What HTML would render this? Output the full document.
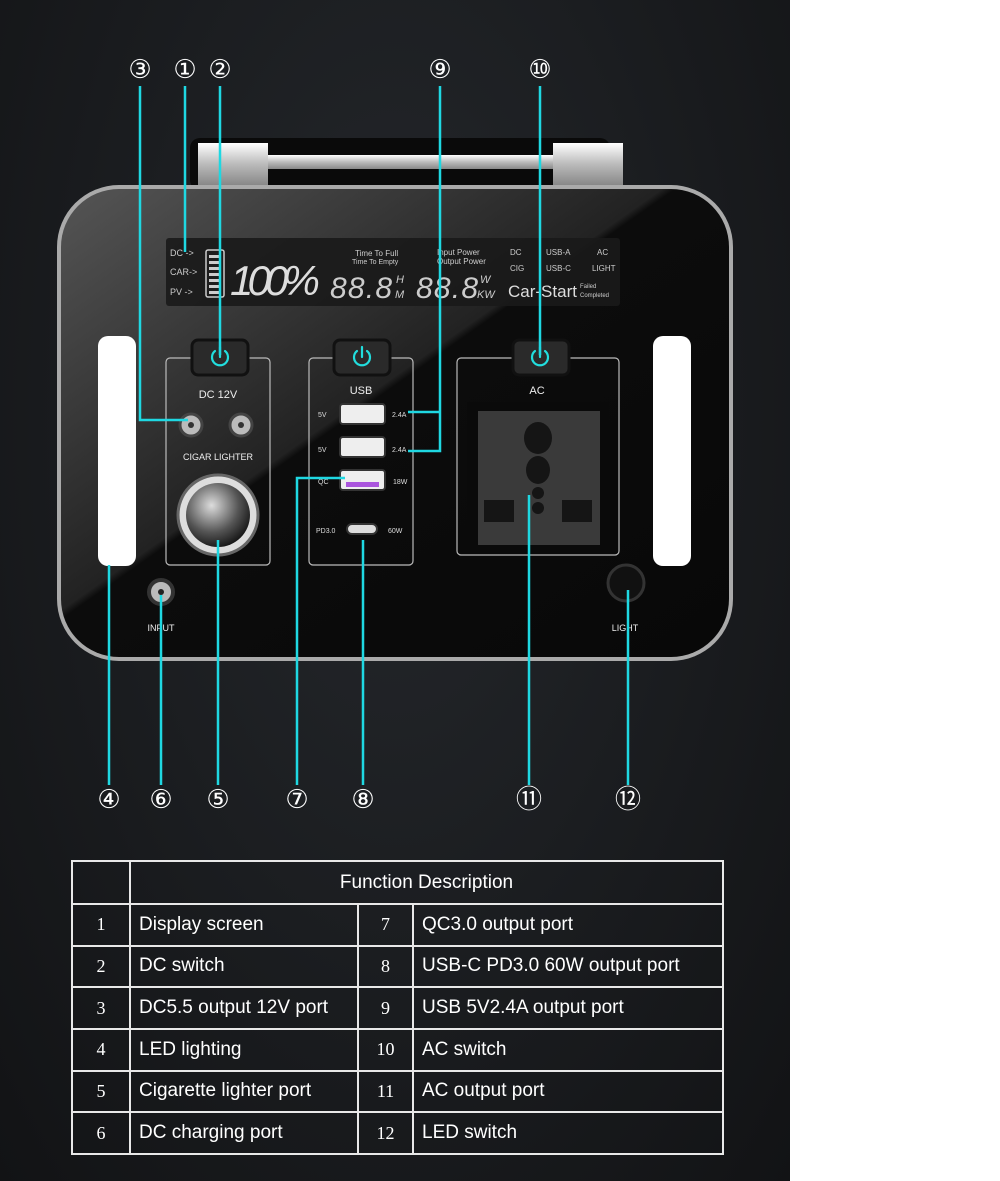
<!DOCTYPE html>
<html><head><meta charset="utf-8"><style>
body{margin:0;width:1000px;height:1181px;background:#fff;overflow:hidden;font-family:"Liberation Sans",sans-serif}
#bg{position:absolute;left:0;top:0;width:790px;height:1181px;background:radial-gradient(ellipse at 50% 35%,#25282c 0%,#1a1c1f 55%,#121315 100%)}
.n{position:absolute;color:#fff;font:26px "DejaVu Sans",sans-serif;transform:translate(-50%,-50%);line-height:1}
table{position:absolute;left:71px;top:860px;width:653px;height:295px;border-collapse:collapse;color:#fff;font-family:"Liberation Sans Narrow","Liberation Sans",sans-serif}
td{border:2px solid #e8e8e8;font-size:19px;padding:0 8px}
td.c{text-align:center;font-family:"Liberation Serif",serif;font-size:18px;padding:0}
</style></head><body>
<div id="bg"></div>
<svg width="790" height="1181" style="position:absolute;left:0;top:0">
<defs>
<linearGradient id="sil" x1="0" y1="0" x2="0" y2="1"><stop offset="0" stop-color="#fff"/><stop offset=".5" stop-color="#bbb"/><stop offset="1" stop-color="#888"/></linearGradient>
<linearGradient id="gl" x1="0" y1="0" x2="1" y2="1"><stop offset="0" stop-color="#555"/><stop offset=".45" stop-color="#222"/><stop offset=".46" stop-color="#0c0c0c"/><stop offset="1" stop-color="#080808"/></linearGradient>
<radialGradient id="cig" cx=".4" cy=".35" r=".7"><stop offset="0" stop-color="#ddd"/><stop offset=".6" stop-color="#555"/><stop offset="1" stop-color="#111"/></radialGradient>
</defs>
<rect x="190" y="138" width="420" height="52" rx="10" fill="#0a0a0a"/>
<rect x="230" y="155" width="330" height="14" fill="url(#sil)"/>
<rect x="198" y="143" width="70" height="42" fill="url(#sil)"/>
<rect x="553" y="143" width="70" height="42" fill="url(#sil)"/>
<rect x="57" y="185" width="676" height="476" rx="62" fill="#aaa"/>
<rect x="61" y="189" width="668" height="468" rx="58" fill="url(#gl)"/>
<rect x="166" y="238" width="454" height="68" rx="3" fill="#1a1a1a" opacity=".9"/>
<g fill="#ccc" font-size="9"><text x="170" y="256">DC -&gt;</text><text x="170" y="275">CAR-&gt;</text><text x="170" y="295">PV -&gt;</text></g>
<rect x="206" y="250" width="18" height="47" rx="2" fill="none" stroke="#ccc" stroke-width="1.5"/>
<g fill="#ccc"><rect x="209" y="255" width="12" height="3"/><rect x="209" y="261" width="12" height="3"/><rect x="209" y="267" width="12" height="3"/><rect x="209" y="273" width="12" height="3"/><rect x="209" y="279" width="12" height="3"/><rect x="209" y="285" width="12" height="3"/><rect x="209" y="291" width="12" height="3"/></g>
<text x="230" y="295" fill="#ddd" font-size="42" font-style="italic" font-family="Liberation Sans Narrow, Liberation Sans" textLength="90">100%</text>
<text x="355" y="256" fill="#ccc" font-size="8">Time To Full</text><text x="352" y="264" fill="#ccc" font-size="7">Time To Empty</text>
<text x="330" y="298" fill="#ccc" font-size="30" font-style="italic" textLength="62">88.8</text>
<text x="396" y="283" fill="#ccc" font-size="11" font-style="italic">H</text><text x="395" y="298" fill="#ccc" font-size="11" font-style="italic">M</text>
<text x="437" y="255" fill="#ccc" font-size="8">Input Power</text><text x="437" y="264" fill="#ccc" font-size="8">Output Power</text>
<text x="416" y="298" fill="#ccc" font-size="30" font-style="italic" textLength="62">88.8</text>
<text x="480" y="283" fill="#ccc" font-size="11" font-style="italic">W</text><text x="477" y="298" fill="#ccc" font-size="11" font-style="italic">KW</text>
<g fill="#ccc" font-size="8"><text x="510" y="255">DC</text><text x="546" y="255">USB-A</text><text x="597" y="255">AC</text><text x="510" y="271">CIG</text><text x="546" y="271">USB-C</text><text x="592" y="271">LIGHT</text></g>
<text x="508" y="297" fill="#ddd" font-size="17">Car-Start</text>
<text x="580" y="288" fill="#ccc" font-size="6">Failed</text><text x="580" y="297" fill="#ccc" font-size="6">Completed</text>
<rect x="98" y="336" width="38" height="230" rx="10" fill="#fff"/>
<rect x="653" y="336" width="38" height="230" rx="10" fill="#fff"/>
<g fill="none" stroke="#bbb" stroke-width="1.2">
<rect x="166" y="358" width="104" height="207" rx="4"/><rect x="309" y="358" width="104" height="207" rx="4"/><rect x="457" y="358" width="162" height="197" rx="4"/></g>
<g fill="#2a2a2a" stroke="#111" stroke-width="3">
<rect x="192" y="340" width="56" height="35" rx="6"/><rect x="334" y="340" width="56" height="35" rx="6"/><rect x="513" y="340" width="56" height="35" rx="6"/></g>
<g fill="none" stroke="#2dd" stroke-width="2.2" stroke-linecap="round">
<path d="M215 351 a8 8 0 1 0 10 0"/><line x1="220" y1="347" x2="220" y2="357"/>
<path d="M357 351 a8 8 0 1 0 10 0"/><line x1="362" y1="347" x2="362" y2="357"/>
<path d="M535 351 a8 8 0 1 0 10 0"/><line x1="540" y1="347" x2="540" y2="357"/></g>
<g fill="#eee" font-size="11" text-anchor="middle"><text x="218" y="398">DC 12V</text><text x="361" y="394">USB</text><text x="537" y="394">AC</text><text x="218" y="460" font-size="9">CIGAR LIGHTER</text>
<text x="161" y="631" font-size="9">INPUT</text><text x="625" y="631" font-size="9">LIGHT</text></g>
<circle cx="191" cy="425" r="11" fill="#bbb" stroke="#444" stroke-width="3"/><circle cx="191" cy="425" r="3" fill="#333"/>
<circle cx="241" cy="425" r="11" fill="#bbb" stroke="#444" stroke-width="3"/><circle cx="241" cy="425" r="3" fill="#333"/>
<circle cx="218" cy="515" r="40" fill="#ddd" stroke="#666" stroke-width="3"/><circle cx="218" cy="515" r="32" fill="url(#cig)"/>
<circle cx="161" cy="592" r="12" fill="#bbb" stroke="#333" stroke-width="4"/><circle cx="161" cy="592" r="3" fill="#222"/>
<circle cx="626" cy="583" r="18" fill="#111" stroke="#333" stroke-width="3"/>
<g fill="#ddd" font-size="7"><text x="318" y="417">5V</text><text x="318" y="452">5V</text><text x="318" y="484">QC</text><text x="316" y="533">PD3.0</text>
<text x="392" y="417">2.4A</text><text x="392" y="452">2.4A</text><text x="393" y="484">18W</text><text x="388" y="533">60W</text></g>
<g fill="#eee" stroke="#333" stroke-width="2"><rect x="340" y="404" width="45" height="20" rx="3"/><rect x="340" y="437" width="45" height="20" rx="3"/><rect x="340" y="470" width="45" height="20" rx="3"/></g>
<rect x="346" y="482" width="33" height="5" fill="#a5d"/>
<rect x="347" y="524" width="30" height="10" rx="5" fill="#ddd" stroke="#333" stroke-width="2"/>
<rect x="467" y="402" width="142" height="152" fill="#0a0a0a"/>
<rect x="478" y="411" width="122" height="134" fill="#3a3a3a"/>
<g fill="#151515"><ellipse cx="538" cy="438" rx="14" ry="16"/><ellipse cx="538" cy="470" rx="12" ry="14"/><circle cx="538" cy="493" r="6"/><circle cx="538" cy="508" r="6"/><rect x="484" y="500" width="30" height="22"/><rect x="562" y="500" width="30" height="22"/></g>
<g stroke="#1fd8e2" stroke-width="2.5" fill="none">
<path d="M140 86V420H188"/><path d="M185 86V252"/><path d="M220 86V355"/>
<path d="M440 86V451H408M440 412H408"/><path d="M540 86V355"/>
<path d="M109 785V565"/><path d="M161 785V595"/><path d="M218 785V540"/>
<path d="M297 785V478H345"/><path d="M363 785V540"/><path d="M529 785V495"/><path d="M628 785V590"/>
</g>
</svg>
<div class="n" style="left:140px;top:70px">③</div><div class="n" style="left:185px;top:70px">①</div><div class="n" style="left:220px;top:70px">②</div>
<div class="n" style="left:440px;top:70px">⑨</div><div class="n" style="left:540px;top:70px">⑩</div>
<div class="n" style="left:109px;top:800px">④</div><div class="n" style="left:161px;top:800px">⑥</div><div class="n" style="left:218px;top:800px">⑤</div>
<div class="n" style="left:297px;top:800px">⑦</div><div class="n" style="left:363px;top:800px">⑧</div><div class="n" style="left:529px;top:800px">⑪</div><div class="n" style="left:628px;top:800px">⑫</div>
<table>
<colgroup><col style="width:58px"><col style="width:228px"><col style="width:55px"><col></colgroup>
<tr style="height:43px"><td></td><td colspan="3" style="text-align:center">Function Description</td></tr>
<tr><td class="c">1</td><td>Display screen</td><td class="c">7</td><td>QC3.0 output port</td></tr>
<tr><td class="c">2</td><td>DC switch</td><td class="c">8</td><td>USB-C PD3.0 60W output port</td></tr>
<tr><td class="c">3</td><td>DC5.5 output 12V port</td><td class="c">9</td><td>USB 5V2.4A output port</td></tr>
<tr><td class="c">4</td><td>LED lighting</td><td class="c">10</td><td>AC switch</td></tr>
<tr><td class="c">5</td><td>Cigarette lighter port</td><td class="c">11</td><td>AC output port</td></tr>
<tr><td class="c">6</td><td>DC charging port</td><td class="c">12</td><td>LED switch</td></tr>
</table>
</body></html>
